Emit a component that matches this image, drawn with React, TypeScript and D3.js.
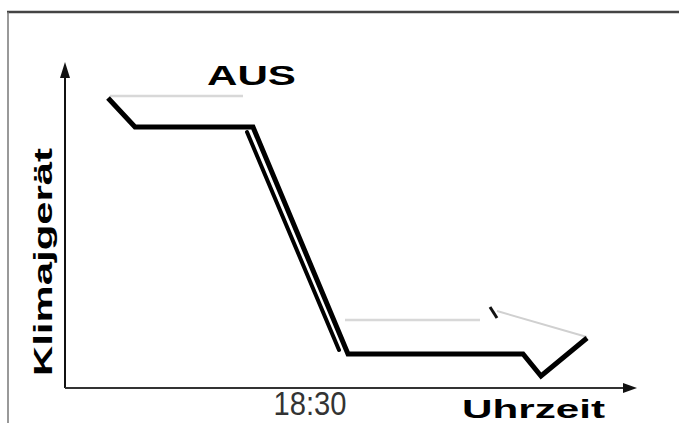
import React from "react";
import * as d3 from "d3";

// data units: time (x) and cooling level (y)
const mainLineX = [43, 70, 188, 283, 458, 476, 522];
const mainLineY = [290, 261, 261, 34, 34, 12, 50];
const innerDiagX = [182, 274];
const innerDiagY = [256, 38];
const ghostTopX = [45, 178];
const ghostTopY = [292, 292];
const ghostBottomX = [280, 415];
const ghostBottomY = [68, 68];
const arrowDashX = [425, 432];
const arrowDashY = [81, 70];
const arrowEdgeX = [432, 522];
const arrowEdgeY = [77, 51];
const tickValues = [245];
const tickLabels = ["18:30"];

const W = 679;
const H = 423;

export default function App() {
  const x = d3.scaleLinear().domain([0, 570]).range([65, 635]);
  const y = d3.scaleLinear().domain([0, 320]).range([388, 68]);
  const line = d3
    .line<[number, number]>()
    .x((d) => x(d[0]))
    .y((d) => y(d[1]));
  const pts = (xs: number[], ys: number[]) =>
    xs.map((v, i) => [v, ys[i]] as [number, number]);

  const x0 = x(0);
  const y0 = y(0);
  const xEnd = x(570);
  const yTop = y(320);

  return (
    <svg
      width={W}
      height={H}
      style={{ position: "absolute", left: 0, top: 0, background: "#fff" }}
    >
      {/* frame */}
      <line x1={7} y1={12} x2={W} y2={12} stroke="#444" strokeWidth={2.5} />
      <line x1={8} y1={12} x2={8} y2={H} stroke="#777" strokeWidth={1.5} />

      {/* axes */}
      <line x1={x0} y1={y0} x2={x0} y2={yTop + 8} stroke="#111" strokeWidth={2} />
      <path d={`M${x0},${yTop - 6} L${x0 - 5},${yTop + 10} L${x0 + 5},${yTop + 10} Z`} fill="#111" />
      <line x1={x0} y1={y0} x2={xEnd - 8} y2={y0} stroke="#333" strokeWidth={2} />
      <path d={`M${xEnd + 2},${y0} L${xEnd - 12},${y0 - 5} L${xEnd - 12},${y0 + 5} Z`} fill="#111" />

      {/* ghost (upper surface) lines */}
      <path d={line(pts(ghostTopX, ghostTopY)) || ""} fill="none" stroke="#d8d8d8" strokeWidth={2.5} />
      <path d={line(pts(ghostBottomX, ghostBottomY)) || ""} fill="none" stroke="#d8d8d8" strokeWidth={2.5} />
      <path d={line(pts(arrowEdgeX, arrowEdgeY)) || ""} fill="none" stroke="#d0d0d0" strokeWidth={2} />
      <path d={line(pts(arrowDashX, arrowDashY)) || ""} fill="none" stroke="#111" strokeWidth={3} />

      {/* main thick line */}
      <path
        d={line(pts(innerDiagX, innerDiagY)) || ""}
        fill="none"
        stroke="#000"
        strokeWidth={4}
        strokeLinecap="round"
      />
      <path
        d={line(pts(mainLineX, mainLineY)) || ""}
        fill="none"
        stroke="#000"
        strokeWidth={5}
        strokeLinejoin="miter"
      />

      {/* labels */}
      <text
        x={207}
        y={85}
        fontFamily="Liberation Sans, Arial, sans-serif"
        fontWeight="bold"
        fontSize={27}
        textLength={89}
        lengthAdjust="spacingAndGlyphs"
        fill="#000"
      >
        AUS
      </text>
      <text
        transform="translate(52,376) rotate(-90)"
        fontFamily="Liberation Sans, Arial, sans-serif"
        fontWeight="bold"
        fontSize={26}
        textLength={228}
        lengthAdjust="spacingAndGlyphs"
        fill="#000"
      >
        Klimajgerät
      </text>
      {tickValues.map((t, i) => (
        <text
          key={i}
          x={x(t)}
          y={415}
          textAnchor="middle"
          fontFamily="Liberation Sans Narrow, Liberation Sans, sans-serif"
          fontSize={33}
          textLength={73}
          lengthAdjust="spacingAndGlyphs"
          fill="#333"
        >
          {tickLabels[i]}
        </text>
      ))}
      <text
        x={462}
        y={418}
        fontFamily="Liberation Sans, Arial, sans-serif"
        fontWeight="bold"
        fontSize={25}
        textLength={143}
        lengthAdjust="spacingAndGlyphs"
        fill="#000"
      >
        Uhrzeit
      </text>
    </svg>
  );
}
